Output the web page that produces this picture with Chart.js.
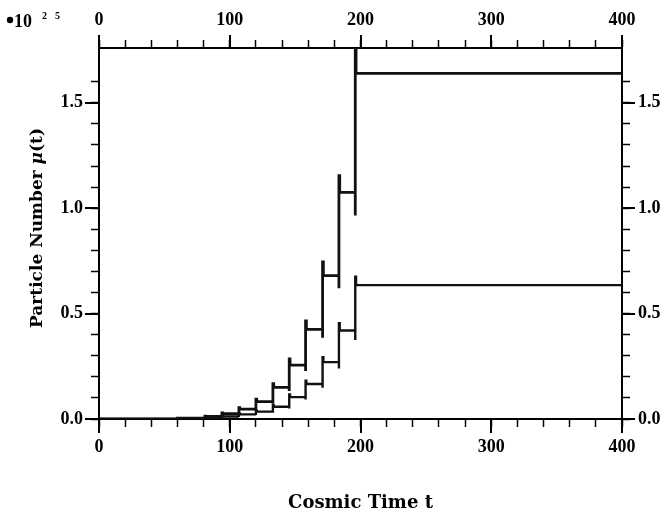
<!DOCTYPE html>
<html>
<head>
<meta charset="utf-8">
<script src="https://cdn.jsdelivr.net/npm/chart.js@4.4.1/dist/chart.umd.min.js"></script>
<style>
  html, body { margin: 0; padding: 0; background: #fff; }
  canvas { display: block; }
</style>
</head>
<body>
<canvas id="chart" width="668" height="519" style="width:668px;height:519px"></canvas>
<script>
// step starts (cosmic time t) shared by both curves
const stepStarts = [0, 60, 81, 94, 107, 120, 133, 145.5, 158, 171, 183.5, 196];

// upper curve: level of each step, overshoot right after the jump, dip just before it
const upperLevels = [0, 0.004, 0.012, 0.025, 0.047, 0.082, 0.15, 0.256, 0.425, 0.68, 1.075, 1.64];
const upperPeaks  = [null, null, 0.014, 0.029, 0.054, 0.094, 0.168, 0.285, 0.465, 0.745, 1.155, 1.76];
const upperDips   = [null, null, 0.003, 0.01, 0.021, 0.041, 0.072, 0.133, 0.228, 0.385, 0.62, 0.965];

// lower curve
const lowerLevels = [0, 0.002, 0.006, 0.012, 0.022, 0.035, 0.058, 0.104, 0.166, 0.27, 0.42, 0.635];
const lowerPeaks  = [null, null, null, 0.014, 0.026, 0.04, 0.066, 0.116, 0.182, 0.293, 0.455, 0.675];
const lowerDips   = [null, null, null, 0.005, 0.01, 0.019, 0.03, 0.05, 0.092, 0.148, 0.24, 0.375];

const tEnd = 400;
const xMajor = [0, 100, 200, 300, 400];
const yMajor = [0, 0.5, 1.0, 1.5];

function buildSteps(levels, peaks, dips) {
  const pts = [];
  for (let i = 0; i < stepStarts.length; i++) {
    const t = stepStarts[i];
    if (dips[i] != null) pts.push({ x: t, y: dips[i] });
    if (peaks[i] != null) {
      pts.push({ x: t, y: peaks[i] });
      pts.push({ x: t + 0.6, y: levels[i] });
    } else {
      pts.push({ x: t, y: levels[i] });
    }
  }
  pts.push({ x: tEnd, y: levels[levels.length - 1] });
  return pts;
}

const tickFont = { family: "'Liberation Serif', serif", size: 18, weight: 'bold' };
const titleFont = { family: "'DejaVu Serif', serif", size: 18, weight: 'bold' };

const bgPlugin = {
  id: 'bg',
  beforeDraw(chart) {
    const ctx = chart.ctx;
    ctx.save();
    ctx.fillStyle = '#fff';
    ctx.fillRect(0, 0, chart.width, chart.height);
    ctx.restore();
  }
};

// longer ticks at labelled values, exponent note and y title with italic mu
const decorPlugin = {
  id: 'decor',
  afterDraw(chart) {
    const ctx = chart.ctx;
    const a = chart.chartArea;
    const sx = chart.scales.x, sy = chart.scales.y;
    ctx.save();
    ctx.strokeStyle = '#000';
    ctx.lineWidth = 2;
    ctx.beginPath();
    xMajor.forEach(v => {
      const px = Math.round(sx.getPixelForValue(v));
      ctx.moveTo(px, a.bottom); ctx.lineTo(px, a.bottom + 14);
      ctx.moveTo(px, a.top); ctx.lineTo(px, a.top - 13);
    });
    yMajor.forEach(v => {
      const py = Math.round(sy.getPixelForValue(v));
      ctx.moveTo(a.left, py); ctx.lineTo(a.left - 14, py);
      ctx.moveTo(a.right, py); ctx.lineTo(a.right + 13, py);
    });
    ctx.stroke();

    ctx.fillStyle = '#000';
    ctx.beginPath();
    ctx.arc(10, 20, 3.2, 0, Math.PI * 2);
    ctx.fill();
    ctx.textBaseline = 'alphabetic';
    ctx.textAlign = 'left';
    ctx.font = "bold 18px 'Liberation Serif', serif";
    ctx.fillText('10', 14, 27);
    ctx.font = "bold 10px 'Liberation Serif', serif";
    ctx.fillText('2', 42, 19);
    ctx.fillText('5', 55, 19);

    // y axis title
    const parts = [
      { t: 'Particle Number ', f: "bold 17px 'DejaVu Serif', serif" },
      { t: 'μ', f: "italic bold 17px 'DejaVu Serif', serif" },
      { t: '(t)', f: "bold 17px 'DejaVu Serif', serif" }
    ];
    let total = 0;
    parts.forEach(p => { ctx.font = p.f; p.w = ctx.measureText(p.t).width; total += p.w; });
    ctx.translate(38, 228);
    ctx.rotate(-Math.PI / 2);
    ctx.textBaseline = 'middle';
    let x = -total / 2;
    parts.forEach(p => { ctx.font = p.f; ctx.fillText(p.t, x, 0); x += p.w; });
    ctx.restore();
  }
};

const axisGrid = { display: true, drawOnChartArea: false, drawTicks: true, tickLength: 8, tickWidth: 1.5, tickColor: '#000', color: '#000' };
const axisBorder = { display: true, color: '#000', width: 2 };

function xLabel(v) { return v % 100 === 0 ? String(v) : ''; }
function yLabel(v) { return Math.abs(v * 2 - Math.round(v * 2)) < 1e-6 ? v.toFixed(1) : ''; }
function keepTenths(scale) {
  scale.ticks = scale.ticks.filter(t => Math.abs(t.value * 10 - Math.round(t.value * 10)) < 1e-6);
}

new Chart(document.getElementById('chart').getContext('2d'), {
  type: 'line',
  data: {
    datasets: [
      { label: 'upper', data: buildSteps(upperLevels, upperPeaks, upperDips), stepped: true,
        borderColor: '#111', borderWidth: 2.8, pointRadius: 0, fill: false, xAxisID: 'x', yAxisID: 'y' },
      { label: 'lower', data: buildSteps(lowerLevels, lowerPeaks, lowerDips), stepped: true,
        borderColor: '#111', borderWidth: 2.4, pointRadius: 0, fill: false, xAxisID: 'x', yAxisID: 'y' }
    ]
  },
  options: {
    responsive: false,
    animation: false,
    devicePixelRatio: 1,
    layout: { padding: 0 },
    plugins: { legend: { display: false }, tooltip: { enabled: false } },
    scales: {
      x: {
        type: 'linear', position: 'bottom', min: 0, max: 400,
        ticks: { stepSize: 20, autoSkip: false, maxRotation: 0, color: '#000', font: tickFont, padding: 10, callback: xLabel },
        grid: axisGrid, border: axisBorder,
        title: { display: true, text: 'Cosmic Time t', color: '#000', font: titleFont, padding: { top: 0, bottom: 5 } },
        afterFit: s => { s.height = 100; }
      },
      x2: {
        type: 'linear', position: 'top', min: 0, max: 400,
        ticks: { stepSize: 20, autoSkip: false, maxRotation: 0, color: '#000', font: tickFont, padding: 9, callback: xLabel },
        grid: axisGrid, border: axisBorder,
        afterFit: s => { s.height = 48; }
      },
      y: {
        type: 'linear', position: 'left', min: 0, max: 1.76,
        ticks: { stepSize: 0.1, autoSkip: false, color: '#000', font: tickFont, padding: 8, callback: yLabel },
        grid: axisGrid, border: axisBorder,
        afterBuildTicks: keepTenths,
        afterFit: s => { s.width = 99; }
      },
      y2: {
        type: 'linear', position: 'right', min: 0, max: 1.76,
        ticks: { stepSize: 0.1, autoSkip: false, color: '#000', font: tickFont, padding: 8, callback: yLabel },
        grid: axisGrid, border: axisBorder,
        afterBuildTicks: keepTenths,
        afterFit: s => { s.width = 46; }
      }
    }
  },
  plugins: [bgPlugin, decorPlugin]
});
</script>
</body>
</html>
